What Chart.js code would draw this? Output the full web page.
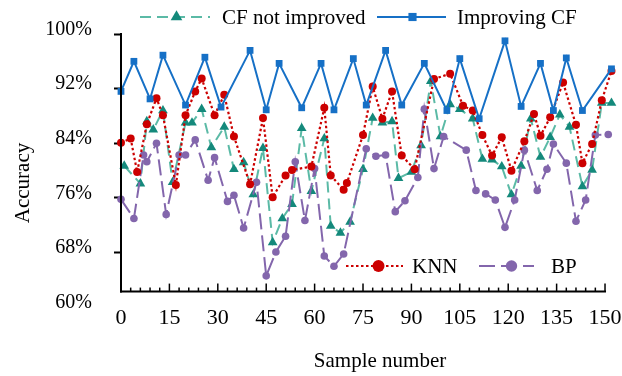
<!DOCTYPE html>
<html><head><meta charset="utf-8">
<script src="https://cdn.jsdelivr.net/npm/chart.js@4/dist/chart.umd.min.js"></script>
<style>html,body{margin:0;padding:0;background:#fff;}#wrap{width:622px;height:376px;position:relative;}</style>
</head><body><div id="wrap"><canvas id="c" width="622" height="376"></canvas></div>
<script>
// ---- data ----
const xTicks = [0,15,30,45,60,75,90,105,120,135,150];
const yTicks = [60,68,76,84,92,100];

const cfX = [1,6,8,10,13,16,20,22,25,28,32,35,38,41,44,47,50,53,56,59,63,65,68,71,75,78,81,84,86,90,93,96,99,102,105,109,112,115,118,121,124,127,130,133,136,139,143,146,149,152];
const cfY = [80.7,78.1,87.2,86.0,88.8,78.3,87.0,87.0,89.0,83.4,86.4,80.2,81.2,76.5,83.3,69.5,73.0,75.1,86.2,77.0,84.7,71.9,70.9,72.5,80.2,87.7,87.0,87.2,78.9,79.8,83.7,93.1,85.0,89.7,89.0,87.6,81.7,81.6,80.6,76.5,80.7,87.6,82.0,84.9,88.2,86.4,77.7,80.1,89.9,89.9];

const impX = [0,4,9,13,20,26,31,40,45,49,56,62,66,72,76,82,87,94,101,105,111,119,124,130,134,138,143,152];
const impY = [91.6,96.0,90.5,96.9,89.6,96.6,89.3,97.6,88.9,95.7,89.2,95.7,88.9,96.4,89.6,97.6,89.6,95.7,88.8,96.4,87.6,99.0,89.4,95.7,88.8,96.5,88.8,94.9];

const knnX = [0,3,5,8,11,13,17,20,23,25,29,32,35,40,44,47,51,53,59,63,65,69,70,75,78,81,84,87,91,97,102,106,109,112,115,118,121,125,128,130,133,137,141,143,146,149,152];
const knnY = [84.1,84.7,79.8,86.8,90.6,88.1,77.9,88.1,91.6,93.5,88.1,91.1,85.0,78.0,87.7,76.1,79.3,80.1,80.6,89.2,79.3,77.2,78.2,85.2,92.3,87.6,91.6,82.2,80.2,93.4,94.2,89.5,88.8,85.2,82.2,84.9,80.0,84.3,88.3,85.1,87.8,92.9,86.7,81.1,83.9,90.3,94.6];

const bpX = [0,4,7,8,11,14,18,20,23,27,29,33,35,38,42,45,48,51,54,57,60,63,66,69,76,79,82,85,88,92,94,97,100,107,110,113,116,119,122,125,129,132,134,138,141,144,147,151];
const bpY = [75.8,73.0,82.3,81.3,84.0,73.6,82.3,82.3,84.5,78.6,81.9,75.5,76.4,71.6,78.3,64.6,68.1,70.4,81.3,72.7,80.3,67.5,66.0,67.8,83.2,82.1,82.3,74.0,75.6,79.0,89.0,80.3,85.0,83.0,77.1,76.6,75.7,71.7,75.7,83.0,77.1,80.2,83.9,81.1,72.6,75.7,85.2,85.3];

const seriesNames = ['CF not improved','Improving CF','KNN','BP'];

// ---- styling ----
const FONT = "'Liberation Serif','Times New Roman',serif";
const AXIS_CROSS = 62.3; // value where the horizontal axis line sits
const pts = (xs, ys) => xs.map((x, i) => ({x: x, y: ys[i]}));

const styles = [
  {line:'#5bbaa6', mark:'#14897b', dash:[11,6], shape:'triangle', r:5.6, w:2},
  {line:'#1670c6', mark:'#1670c6', dash:[], shape:'rect', r:4.8, w:2},
  {line:'#cc0000', mark:'#cc0000', dash:[2.5,2.5], shape:'circle', r:4, w:2.2},
  {line:'#8366ac', mark:'#8366ac', dash:[16,6], shape:'circle', r:3.8, w:2}
];
const sets = [pts(cfX,cfY), pts(impX,impY), pts(knnX,knnY), pts(bpX,bpY)];

const datasets = sets.map((d, i) => ({
  label: seriesNames[i],
  data: d,
  borderColor: styles[i].line,
  borderWidth: styles[i].w,
  borderDash: styles[i].dash,
  pointStyle: styles[i].shape,
  pointRadius: styles[i].r,
  pointBackgroundColor: styles[i].mark,
  pointBorderColor: styles[i].mark,
  pointBorderWidth: 0,
  tension: 0,
  clip: false,
  order: [3,0,1,2][i]
}));

function marker(ctx, shape, x, y, r, color) {
  ctx.save();
  ctx.fillStyle = color;
  ctx.setLineDash([]);
  ctx.beginPath();
  if (shape === 'triangle') {
    ctx.moveTo(x, y - r);
    ctx.lineTo(x + r * 0.866, y + r * 0.5);
    ctx.lineTo(x - r * 0.866, y + r * 0.5);
    ctx.closePath();
  } else if (shape === 'rect') {
    const s = r * Math.SQRT1_2;
    ctx.rect(x - s, y - s, 2 * s, 2 * s);
  } else {
    ctx.arc(x, y, r, 0, Math.PI * 2);
  }
  ctx.fill();
  ctx.restore();
}

const decor = {
  id: 'decor',
  afterDraw(chart) {
    const ctx = chart.ctx;
    const xs = chart.scales.x, ys = chart.scales.y;
    const axisY = ys.getPixelForValue(AXIS_CROSS);
    const left = chart.chartArea.left;
    ctx.save();
    ctx.strokeStyle = '#000';
    ctx.lineWidth = 2;
    ctx.setLineDash([]);
    ctx.beginPath();
    ctx.moveTo(left, ys.getPixelForValue(100) - 1);
    ctx.lineTo(left, axisY + 1);
    ctx.stroke();
    const endX = xs.getPixelForValue(150);
    ctx.beginPath();
    ctx.moveTo(left - 1, axisY);
    ctx.lineTo(endX + 1, axisY);
    ctx.stroke();
    ctx.lineWidth = 1.5;
    for (let v = 0; v <= 150; v += 3) {
      const px = xs.getPixelForValue(v);
      const len = (v % 15 === 0) ? 8 : 4;
      ctx.beginPath();
      ctx.moveTo(px, axisY);
      ctx.lineTo(px, axisY - len);
      ctx.stroke();
    }
    ctx.fillStyle = '#000';
    ctx.font = '21px ' + FONT;
    ctx.textAlign = 'center';
    ctx.textBaseline = 'middle';
    ctx.fillText('Sample number', 380, 361);
    ctx.save();
    ctx.translate(23, 183);
    ctx.rotate(-Math.PI / 2);
    ctx.fillText('Accuracy', 0, 0);
    ctx.restore();
    const items = [
      {i:0, x1:140, x2:210, mx:176.5, tx:222, y:17},
      {i:1, x1:377, x2:446, mx:412.5, tx:457, y:17},
      {i:2, x1:346, x2:403, mx:378.5, tx:412, y:266},
      {i:3, x1:479, x2:534, mx:511.5, tx:551, y:266}
    ];
    items.forEach(it => {
      const s = styles[it.i];
      ctx.strokeStyle = s.line;
      ctx.lineWidth = s.w;
      ctx.setLineDash(s.dash);
      ctx.beginPath();
      ctx.moveTo(it.x1, it.y);
      ctx.lineTo(it.x2, it.y);
      ctx.stroke();
      marker(ctx, s.shape, it.mx, it.y, it.i >= 2 ? s.r * 1.5 : s.r * 1.2, s.mark);
      ctx.setLineDash([]);
      ctx.fillStyle = '#000';
      ctx.textAlign = 'left';
      ctx.textBaseline = 'middle';
      ctx.font = '21px ' + FONT;
      ctx.fillText(seriesNames[it.i], it.tx, it.y + 1);
    });
    ctx.restore();
  }
};

new Chart(document.getElementById('c'), {
  type: 'line',
  data: { datasets: datasets },
  options: {
    responsive: false,
    animation: false,
    devicePixelRatio: 1,
    layout: { padding: { top: 32.3, right: 7.3, left: 0, bottom: 0 } },
    plugins: { legend: { display: false }, tooltip: { enabled: false } },
    scales: {
      x: {
        type: 'linear', min: 0, max: 153,
        grid: { display: false }, border: { display: false },
        ticks: { stepSize: 15, includeBounds: false, autoSkip: false, maxRotation: 0, padding: -10,
                 color: '#000', font: { family: FONT, size: 22 } },
        afterBuildTicks: s => { s.ticks = xTicks.map(v => ({ value: v })); },
        afterFit: s => { s.height = 68.7; }
      },
      y: {
        min: 60, max: 100,
        grid: { display: true, drawOnChartArea: false, drawTicks: true, tickLength: 7, tickWidth: 2,
                tickColor: c => (c.tick && c.tick.value === 60) ? 'rgba(0,0,0,0)' : '#000' },
        border: { display: false },
        ticks: { stepSize: 8, padding: 22, labelOffset: -4.5, color: '#000',
                 font: { family: FONT, size: 20 }, callback: v => v + '%' },
        afterBuildTicks: s => { s.ticks = yTicks.map(v => ({ value: v })); },
        afterFit: s => { s.width = 121; }
      }
    }
  },
  plugins: [decor]
});
</script></body></html>
